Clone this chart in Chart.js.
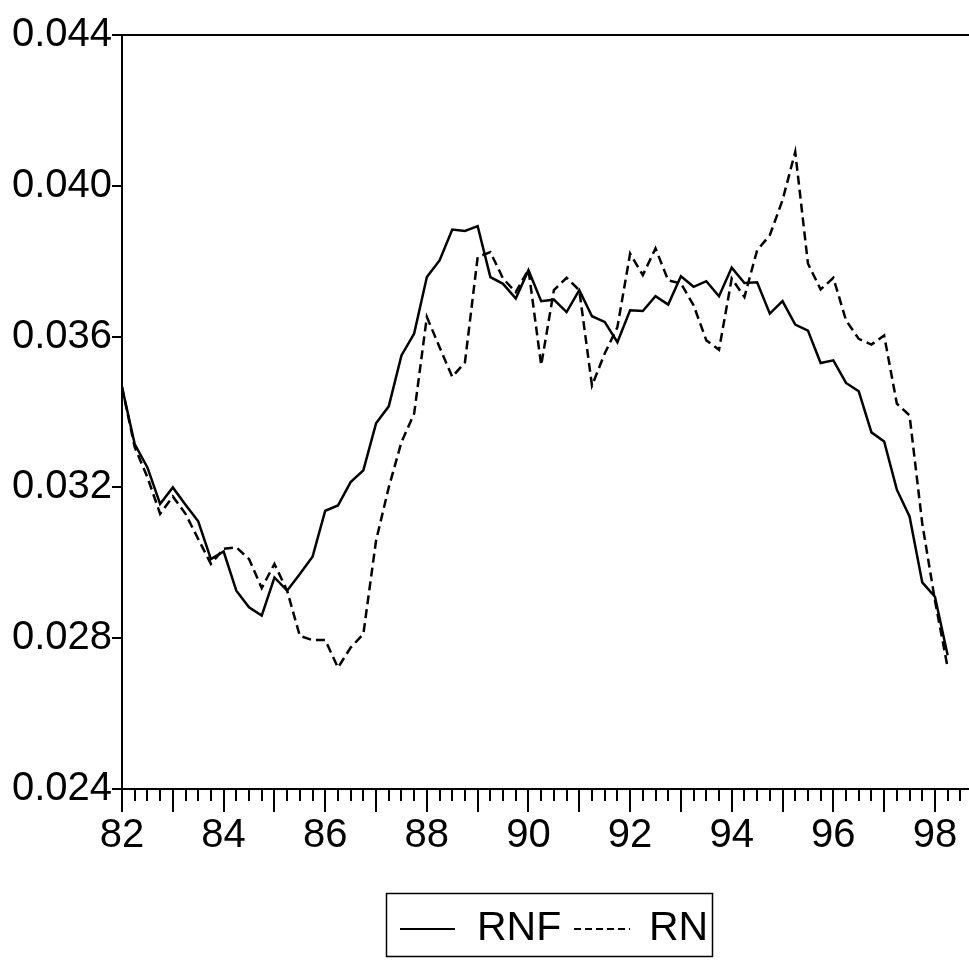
<!DOCTYPE html>
<html>
<head>
<meta charset="utf-8">
<script src="https://cdn.jsdelivr.net/npm/chart.js@4.4.1/dist/chart.umd.min.js"></script>
<style>
html,body{margin:0;padding:0;background:#fff;}
#wrap{width:969px;height:961px;}
</style>
</head>
<body>
<div id="wrap"><canvas id="c" width="969" height="961"></canvas></div>
<script>
// quarterly series, 82Q1 .. 98Q2
const FIRST_YEAR=82;
const RNF=[0.03466,0.03315,0.03253,0.03156,0.03200,0.03154,0.03110,0.03010,0.03030,0.02926,
  0.02882,0.02860,0.02961,0.02926,0.02970,0.03016,0.03138,0.03152,0.03214,0.03245,
  0.03370,0.03415,0.03550,0.03608,0.03758,0.03802,0.03884,0.03880,0.03893,0.03758,
  0.03740,0.03701,0.03776,0.03694,0.03698,0.03665,0.03723,0.03654,0.03639,0.03585,
  0.03670,0.03668,0.03707,0.03685,0.03760,0.03732,0.03747,0.03707,0.03783,0.03742,
  0.03744,0.03661,0.03694,0.03632,0.03616,0.03530,0.03537,0.03477,0.03455,0.03346,
  0.03322,0.03194,0.03123,0.02948,0.02910,0.02755];
const RN=[0.03466,0.03307,0.03227,0.03130,0.03176,0.03130,0.03063,0.02997,0.03037,0.03041,
  0.03010,0.02933,0.02997,0.02926,0.02806,0.02795,0.02795,0.02722,0.02775,0.02811,
  0.03059,0.03200,0.03320,0.03396,0.03652,0.03572,0.03493,0.03532,0.03811,0.03824,
  0.03754,0.03718,0.03778,0.03524,0.03723,0.03756,0.03723,0.03470,0.03555,0.03625,
  0.03820,0.03763,0.03834,0.03749,0.03741,0.03683,0.03590,0.03565,0.03754,0.03705,
  0.03829,0.03869,0.03962,0.04090,0.03794,0.03725,0.03756,0.03643,0.03594,0.03579,
  0.03603,0.03422,0.03391,0.03104,0.02900,0.02722];
const SERIES_NAMES=['RNF','RN'];
const Y_TICKS=[0.024,0.028,0.032,0.036,0.040,0.044];
const X_YEARS=[82,83,84,85,86,87,88,89,90,91,92,93,94,95,96,97,98];
const X_LABELS=[82,84,86,88,90,92,94,96,98];

const FONT='"Liberation Sans", Arial, sans-serif';
const toPts=arr=>arr.map((v,i)=>({x:FIRST_YEAR+i/4,y:v}));

// quarter ticks + top frame line
const framePlugin={
  id:'frame',
  afterDraw(chart){
    const {ctx,chartArea:a,scales:{x}}=chart;
    ctx.save();
    ctx.strokeStyle='#000';
    ctx.lineWidth=2;
    ctx.beginPath();
    ctx.moveTo(a.left,a.top);ctx.lineTo(a.right,a.top);
    for(let q=FIRST_YEAR;q<=x.max;q+=0.25){
      if(Number.isInteger(q)) continue;
      const px=Math.round(x.getPixelForValue(q));
      ctx.moveTo(px,a.bottom);ctx.lineTo(px,a.bottom+12);
    }
    ctx.stroke();
    ctx.restore();
  }
};

// framed legend below the axis
const legendPlugin={
  id:'boxLegend',
  afterDraw(chart){
    const ctx=chart.ctx;
    const y=929;
    ctx.save();
    ctx.strokeStyle='#000';
    ctx.lineWidth=1.5;
    ctx.strokeRect(386.5,893.5,326,63);
    ctx.lineWidth=2;
    ctx.beginPath();ctx.moveTo(400,y);ctx.lineTo(455,y);ctx.stroke();
    ctx.setLineDash([7,4]);
    ctx.beginPath();ctx.moveTo(574,y);ctx.lineTo(630,y);ctx.stroke();
    ctx.setLineDash([]);
    ctx.fillStyle='#000';
    ctx.font='41px '+FONT;
    ctx.textBaseline='middle';
    ctx.fillText(SERIES_NAMES[0],477,y);
    ctx.fillText(SERIES_NAMES[1],649,y);
    ctx.restore();
  }
};

new Chart(document.getElementById('c'),{
  type:'line',
  data:{datasets:[
    {label:SERIES_NAMES[0],data:toPts(RNF),borderColor:'#000',borderWidth:2.5,pointRadius:0,tension:0,fill:false},
    {label:SERIES_NAMES[1],data:toPts(RN),borderColor:'#000',borderWidth:2.5,borderDash:[9,5],pointRadius:0,tension:0,fill:false}
  ]},
  options:{
    responsive:false,animation:false,devicePixelRatio:1,
    layout:{padding:{top:35,right:0,left:0,bottom:0}},
    plugins:{legend:{display:false},tooltip:{enabled:false}},
    scales:{
      x:{
        type:'linear',min:82,max:98.67,
        afterBuildTicks:s=>{s.ticks=X_YEARS.map(v=>({value:v}));},
        afterFit:s=>{s.height=172;},
        border:{color:'#000',width:2},
        grid:{drawOnChartArea:false,color:'#000',lineWidth:2,tickLength:23},
        ticks:{autoSkip:false,maxRotation:0,padding:0,color:'#000',font:{family:FONT,size:40},
          callback:v=>X_LABELS.includes(v)?String(v):''}
      },
      y:{
        min:0.024,max:0.044,
        afterBuildTicks:s=>{s.ticks=Y_TICKS.map(v=>({value:v}));},
        afterFit:s=>{s.width=122;},
        border:{color:'#000',width:2},
        grid:{drawOnChartArea:false,color:'#000',lineWidth:2,tickLength:10},
        ticks:{padding:0,color:'#000',font:{family:FONT,size:40},callback:v=>v.toFixed(3)}
      }
    }
  },
  plugins:[framePlugin,legendPlugin]
});
</script>
</body>
</html>
